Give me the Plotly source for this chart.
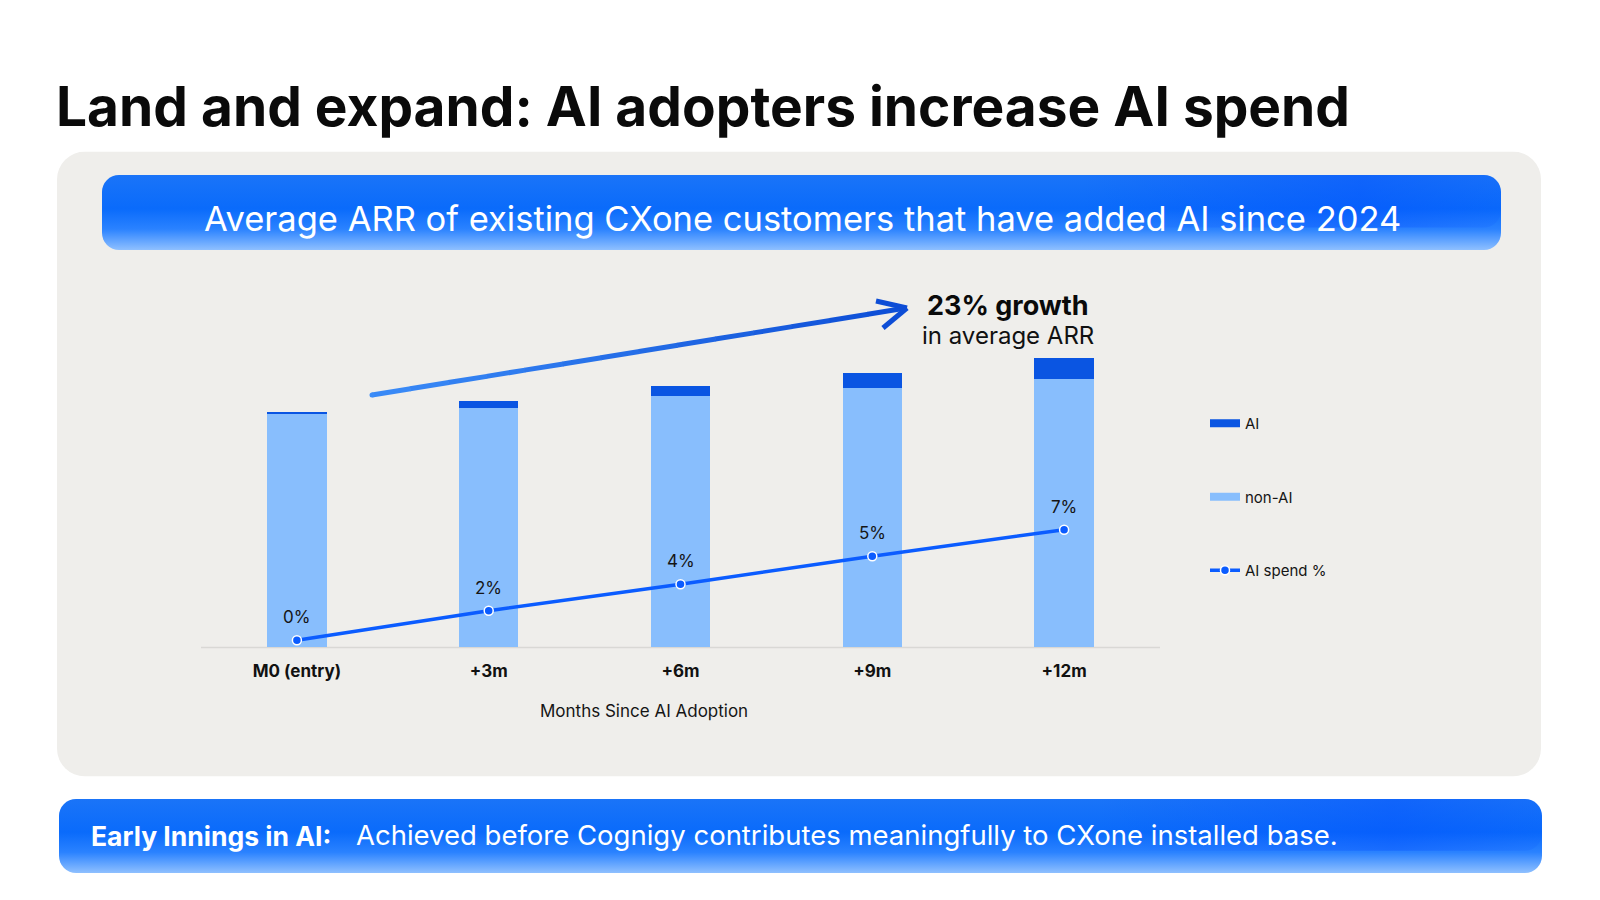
import base64
import plotly.graph_objects as go

# ---------------- data ----------------
categories = ["M0 (entry)", "+3m", "+6m", "+9m", "+12m"]
non_ai_arr = [99.4, 101.8, 107.0, 110.3, 114.1]   # indexed average ARR, non-AI part
ai_arr = [0.6, 2.9, 4.1, 6.3, 8.9]                # indexed average ARR, AI part
ai_spend_pct = [0.0, 1.9, 3.6, 5.4, 7.1]          # AI share of spend, %

W, H = 1600, 900
FONT = "Inter"
BLUE_LINE = "#0b5cff"
NONAI_COL = "#88befd"
AI_COL = "#0a55e2"


def px(x):
    return x / W


def py(y):
    return 1 - y / H


def svg_uri(svg):
    return "data:image/svg+xml;base64," + base64.b64encode(svg.encode()).decode()


def rounded_rect_svg(w, h, r, fill):
    return (f'<svg xmlns="http://www.w3.org/2000/svg" width="{w}" height="{h}" '
            f'viewBox="0 0 {w} {h}" preserveAspectRatio="none">'
            f'<rect x="0" y="0" width="{w}" height="{h}" rx="{r}" ry="{r}" fill="{fill}"/></svg>')


grad = ('<defs><linearGradient id="g" x1="0" y1="0" x2="0" y2="1">'
        '<stop offset="0" stop-color="#1a74f8"/>'
        '<stop offset="0.45" stop-color="#0a6bfb"/>'
        '<stop offset="0.72" stop-color="#2a82ff"/>'
        '<stop offset="1" stop-color="#8fc0ff"/>'
        '</linearGradient>'
        '<linearGradient id="h" x1="0" y1="0" x2="1" y2="0">'
        '<stop offset="0" stop-color="#ffffff" stop-opacity="0"/>'
        '<stop offset="0.7" stop-color="#0048ff" stop-opacity="0"/>'
        '<stop offset="0.9" stop-color="#0048ff" stop-opacity="0.35"/>'
        '<stop offset="1" stop-color="#0048ff" stop-opacity="0.1"/>'
        '</linearGradient></defs>')


def banner_svg(w, h, r):
    return (f'<svg xmlns="http://www.w3.org/2000/svg" width="{w}" height="{h}" '
            f'viewBox="0 0 {w} {h}" preserveAspectRatio="none">{grad}'
            f'<rect x="0" y="0" width="{w}" height="{h}" rx="{r}" ry="{r}" fill="url(#g)"/>'
            f'<rect x="0" y="0" width="{w}" height="{h*0.7}" rx="{r}" ry="{r}" fill="url(#h)"/></svg>')


def layout_img(svg, x0, y0, x1, y1):
    return dict(source=svg_uri(svg), xref="paper", yref="paper",
                x=px(x0), y=py(y0), sizex=px(x1) - px(x0), sizey=(y1 - y0) / H,
                xanchor="left", yanchor="top", sizing="stretch", layer="below")


fig = go.Figure()

# legend-only proxies (rectangular swatches)
fig.add_trace(go.Scatter(x=[None], y=[None], mode="lines", name="AI",
                         line=dict(color=AI_COL, width=8), legendgroup="ai",
                         hoverinfo="skip"))
fig.add_trace(go.Scatter(x=[None], y=[None], mode="lines", name="non-AI",
                         line=dict(color=NONAI_COL, width=8), legendgroup="nonai",
                         hoverinfo="skip"))

fig.add_trace(go.Bar(x=categories, y=non_ai_arr, name="non-AI", marker_color=NONAI_COL,
                     marker_line_width=0, legendgroup="nonai", showlegend=False))
fig.add_trace(go.Bar(x=categories, y=ai_arr, name="AI", marker_color=AI_COL,
                     marker_line_width=0, legendgroup="ai", showlegend=False))
fig.add_trace(go.Scatter(x=categories, y=ai_spend_pct, yaxis="y2", name="AI spend %",
                         mode="lines+markers", legendgroup="pct",
                         line=dict(color=BLUE_LINE, width=3.5),
                         marker=dict(size=9, color=BLUE_LINE,
                                     line=dict(color="white", width=1.5))))

annotations = []
for c, v in zip(categories, ai_spend_pct):
    annotations.append(dict(x=c, y=v, xref="x", yref="y2", text=f"{v:.0f}%",
                            showarrow=False, yshift=23,
                            font=dict(family=FONT, size=17, color="#151515")))

# title and texts
annotations += [
    dict(x=px(54), y=py(106), xref="paper", yref="paper", xanchor="left", yanchor="middle",
         text="Land and expand: AI adopters increase AI spend", showarrow=False,
         font=dict(family=FONT, size=55, color="#0a0a0a", weight=700)),
    dict(x=px(803), y=py(218), xref="paper", yref="paper", xanchor="center", yanchor="middle",
         text="Average ARR of existing CXone customers that have added AI since 2024",
         showarrow=False, font=dict(family=FONT, size=34.5, color="white")),
    dict(x=px(1008), y=py(305), xref="paper", yref="paper", xanchor="center", yanchor="middle",
         text="<b>23% growth</b>", showarrow=False,
         font=dict(family=FONT, size=27, color="#0a0a0a")),
    dict(x=px(1008), y=py(335), xref="paper", yref="paper", xanchor="center", yanchor="middle",
         text="in average ARR", showarrow=False,
         font=dict(family=FONT, size=24, color="#111111")),
    dict(x=px(644), y=py(711), xref="paper", yref="paper", xanchor="center", yanchor="middle",
         text="Months Since AI Adoption", showarrow=False,
         font=dict(family=FONT, size=17, color="#151515")),
    dict(x=px(89), y=py(836), xref="paper", yref="paper", xanchor="left", yanchor="middle",
         text="<b>Early Innings in AI:</b>", showarrow=False,
         font=dict(family=FONT, size=26.5, color="white")),
    dict(x=px(354), y=py(835), xref="paper", yref="paper", xanchor="left", yanchor="middle",
         text="Achieved before Cognigy contributes meaningfully to CXone installed base.",
         showarrow=False, font=dict(family=FONT, size=27.5, color="white")),
]

# growth arrow (decorative) with colour fade
shapes = []
x0, y0, x1, y1 = 372, 395, 906, 308
n = 14
c0 = (0x3b, 0x8c, 0xf8)
c1 = (0x0d, 0x4d, 0xd6)
for i in range(n):
    t0, t1 = i / n, (i + 1) / n
    tm = (t0 + t1) / 2
    col = "rgb({},{},{})".format(*[int(a + (b - a) * tm) for a, b in zip(c0, c1)])
    shapes.append(dict(type="line", xref="paper", yref="paper",
                       x0=px(x0 + (x1 - x0) * t0), y0=py(y0 + (y1 - y0) * t0),
                       x1=px(x0 + (x1 - x0) * t1 + (0.5 if i < n - 1 else 0)),
                       y1=py(y0 + (y1 - y0) * t1),
                       line=dict(color=col, width=5)))
shapes.append(dict(type="circle", xref="paper", yref="paper",
                   x0=px(x0 - 2.5), x1=px(x0 + 2.5), y0=py(y0 - 2.5), y1=py(y0 + 2.5),
                   fillcolor="rgb(59,140,248)", line_width=0))
for ex, ey in [(876, 301), (883, 328)]:
    shapes.append(dict(type="line", xref="paper", yref="paper",
                       x0=px(ex), y0=py(ey), x1=px(x1 + 1), y1=py(y1),
                       line=dict(color="rgb(13,77,214)", width=5)))
# axis baseline
shapes.append(dict(type="line", xref="paper", yref="paper", x0=px(201), x1=px(1160),
                   y0=py(647.5), y1=py(647.5), line=dict(color="#d9d8d5", width=1.5),
                   layer="below"))

images = [
    layout_img(rounded_rect_svg(1484, 625, 28, "#efeeeb"), 57, 151.5, 1541, 776.5),
    layout_img(banner_svg(1399, 75, 17), 102, 175, 1501, 250),
    layout_img(banner_svg(1483, 74, 17), 59, 799, 1542, 873),
]

fig.update_layout(
    width=W, height=H,
    margin=dict(l=0, r=0, t=0, b=0),
    paper_bgcolor="white", plot_bgcolor="rgba(0,0,0,0)",
    barmode="stack", bargap=0.69,
    font=dict(family=FONT, color="#151515"),
    xaxis=dict(domain=[px(201), px(1160)], type="category", categoryarray=categories,
               showgrid=False, zeroline=False, showline=False, ticks="",
               ticklabelstandoff=12,
               tickfont=dict(family=FONT, size=17, color="#111111", weight=700)),
    yaxis=dict(domain=[py(647), py(335)], range=[0, 312 / 2.35], visible=False,
               showgrid=False, zeroline=False),
    yaxis2=dict(overlaying="y", range=[-0.43, 19.6], visible=False, showgrid=False,
                zeroline=False),
    legend=dict(x=px(1205), y=py(407), xanchor="left", yanchor="top",
                traceorder="grouped", tracegroupgap=51, bgcolor="rgba(0,0,0,0)",
                font=dict(family=FONT, size=15, color="#151515"), itemwidth=30),
    showlegend=True,
    annotations=annotations,
    shapes=shapes,
    images=images,
    hovermode=False,
)

fig.write_html("out.html")
